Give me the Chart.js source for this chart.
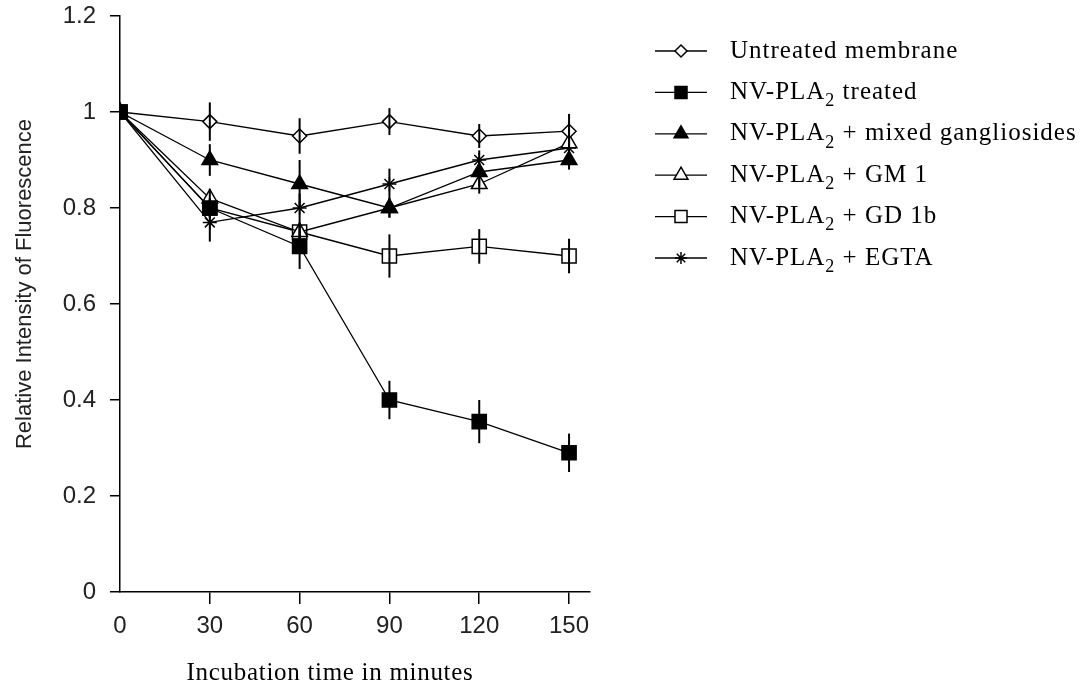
<!DOCTYPE html>
<html>
<head>
<meta charset="utf-8">
<style>
  html, body { margin: 0; padding: 0; background: #fff; }
  #wrap { width: 1087px; height: 686px; position: relative; }
</style>
<script src="https://cdn.jsdelivr.net/npm/chart.js@4.4.1/dist/chart.umd.min.js"></script>
</head>
<body>
<div id="wrap"><canvas id="c" width="1087" height="686"></canvas></div>
<script>
// ---- data ----
const xValues = [0, 30, 60, 90, 120, 150];
const yTickLabels = ['0', '0.2', '0.4', '0.6', '0.8', '1', '1.2'];
const seriesLabels = [
  'Untreated membrane',
  'NV-PLA\u2082 treated',
  'NV-PLA\u2082 + mixed gangliosides',
  'NV-PLA\u2082 + GM 1',
  'NV-PLA\u2082 + GD 1b',
  'NV-PLA\u2082 + EGTA'
];
const untreated    = [1, 0.98, 0.95, 0.98, 0.95, 0.96];
const untreatedErr = [0, 0.04, 0.037, 0.028, 0.025, 0.036];
const treated      = [1, 0.80, 0.72, 0.40, 0.355, 0.29];
const treatedErr   = [0, 0.02, 0.047, 0.04, 0.045, 0.04];
const mixed        = [1, 0.90, 0.85, 0.80, 0.875, 0.90];
const mixedErr     = [0, 0.033, 0.05, 0.02, 0.03, 0.02];
const gm1          = [1, 0.82, 0.75, 0.80, 0.85, 0.935];
const gm1Err       = [0, 0.02, 0.02, 0.02, 0.02, 0.03];
const gd1b         = [1, 0.80, 0.75, 0.70, 0.72, 0.70];
const gd1bErr      = [0, 0.02, 0.02, 0.045, 0.036, 0.036];
const egta         = [1, 0.77, 0.80, 0.85, 0.90, 0.925];
const egtaErr      = [0, 0.04, 0.03, 0.032, 0.02, 0.02];

const seriesValues = [untreated, treated, mixed, gm1, gd1b, egta];
const seriesErrors = [untreatedErr, treatedErr, mixedErr, gm1Err, gd1bErr, egtaErr];

// ---- styles ----
const styles = [
  { pointStyle: 'rectRot',  radius: 7,  fill: '#fff', lr: 6,   order: 1 },
  { pointStyle: 'rect',     radius: 10, fill: '#000', lr: 8.5, order: 0 },
  { pointStyle: 'triangle', radius: 9,  fill: '#000', lr: 8,   order: 1 },
  { pointStyle: 'triangle', radius: 9,  fill: '#fff', lr: 8,   order: 1 },
  { pointStyle: 'rect',     radius: 10, fill: '#fff', lr: 8.5, order: 1 },
  { pointStyle: 'star',     radius: 7,  fill: '#fff', lr: 6,   order: 1 }
];

const datasets = seriesValues.map((vals, i) => ({
  label: seriesLabels[i],
  data: vals.map((v, j) => ({ x: xValues[j], y: v })),
  borderColor: '#000',
  borderWidth: 1.3,
  pointStyle: styles[i].pointStyle,
  pointRadius: styles[i].radius,
  pointBackgroundColor: styles[i].fill,
  pointBorderColor: '#000',
  pointBorderWidth: 1.5,
  order: styles[i].order,
  tension: 0,
  fill: false
}));

const errorBarPlugin = {
  id: 'errorBars',
  afterDatasetsDraw(chart) {
    const ctx = chart.ctx;
    const xs = chart.scales.x, ys = chart.scales.y;
    ctx.save();
    ctx.strokeStyle = '#000';
    ctx.lineWidth = 2;
    seriesValues.forEach((vals, i) => {
      vals.forEach((v, j) => {
        const e = seriesErrors[i][j];
        if (!e) return;
        const px = xs.getPixelForValue(xValues[j]);
        ctx.beginPath();
        ctx.moveTo(px, ys.getPixelForValue(v + e));
        ctx.lineTo(px, ys.getPixelForValue(v - e));
        ctx.stroke();
      });
    });
    ctx.restore();
  }
};

const legendPlugin = {
  id: 'customLegend',
  afterDraw(chart) {
    const ctx = chart.ctx;
    const x0 = 655, x1 = 707, mx = 681, tx = 730;
    const top = 51, step = 41.4;
    ctx.save();
    seriesLabels.forEach((lab, i) => {
      const y = top + i * step;
      ctx.letterSpacing = '0px';
      ctx.strokeStyle = '#000';
      ctx.lineWidth = 1.3;
      ctx.beginPath();
      ctx.moveTo(x0, y); ctx.lineTo(x1, y);
      ctx.stroke();
      ctx.fillStyle = styles[i].fill;
      ctx.strokeStyle = '#000';
      ctx.lineWidth = 1.5;
      Chart.helpers.drawPoint(ctx, { pointStyle: styles[i].pointStyle, radius: styles[i].lr, rotation: 0, borderWidth: 1.5 }, mx, y);
      // text with subscript
      ctx.fillStyle = '#000';
      ctx.textAlign = 'left';
      ctx.textBaseline = 'middle';
      ctx.letterSpacing = '1px';
      const parts = lab.split('\u2082');
      const mainFont = '25px "Liberation Serif"';
      const subFont = '18px "Liberation Serif"';
      let cx = tx;
      ctx.font = mainFont;
      ctx.fillText(parts[0], cx, y);
      cx += ctx.measureText(parts[0]).width;
      if (parts.length > 1) {
        ctx.font = subFont;
        ctx.fillText('2', cx, y + 9);
        cx += ctx.measureText('2').width;
        ctx.font = mainFont;
        ctx.fillText(parts[1], cx, y);
      }
    });
    ctx.restore();
  }
};

const axisTitlePlugin = {
  id: 'axisTitles',
  afterDraw(chart) {
    const ctx = chart.ctx;
    ctx.save();
    ctx.fillStyle = '#000';
    ctx.textAlign = 'center';
    ctx.textBaseline = 'alphabetic';
    ctx.letterSpacing = '0.7px';
    ctx.font = '25px "Liberation Serif"';
    ctx.fillText('Incubation time in minutes', 330, 680);
    ctx.letterSpacing = '0px';
    ctx.translate(31, 284);
    ctx.rotate(-Math.PI / 2);
    ctx.font = '22px "Liberation Sans"';
    ctx.fillStyle = '#222';
    ctx.fillText('Relative Intensity of Fluorescence', 0, 0);
    ctx.restore();
  }
};

new Chart(document.getElementById('c'), {
  type: 'line',
  data: { datasets },
  options: {
    responsive: false,
    animation: false,
    devicePixelRatio: 1,
    layout: { padding: { left: 0, top: 16, right: 497, bottom: 0 } },
    plugins: { legend: { display: false }, tooltip: { enabled: false } },
    scales: {
      x: {
        type: 'linear',
        min: 0, max: 157,
        ticks: {
          stepSize: 30, includeBounds: false, padding: 8,
          color: '#222', font: { family: 'Liberation Sans', size: 24 }
        },
        grid: {
          drawOnChartArea: false, drawTicks: true, tickLength: 12, lineWidth: 1.5,
          color: (c) => (c.tick && c.tick.value === 0 ? 'rgba(0,0,0,0)' : '#000')
        },
        border: { display: true, color: '#000', width: 1.5 },
        afterFit(s) { s.height = 94; s.paddingLeft = 0; s.paddingRight = 0; }
      },
      y: {
        min: 0, max: 1.2,
        ticks: {
          stepSize: 0.2, padding: 14,
          color: '#222', font: { family: 'Liberation Sans', size: 24 },
          callback: (v, i) => yTickLabels[i]
        },
        grid: { drawOnChartArea: false, drawTicks: true, tickLength: 10, lineWidth: 1.5, color: '#000' },
        border: { display: true, color: '#000', width: 1.5 },
        afterFit(s) { s.width = 120; s.paddingTop = 0; s.paddingBottom = 0; }
      }
    }
  },
  plugins: [errorBarPlugin, legendPlugin, axisTitlePlugin]
});
</script>
</body>
</html>
